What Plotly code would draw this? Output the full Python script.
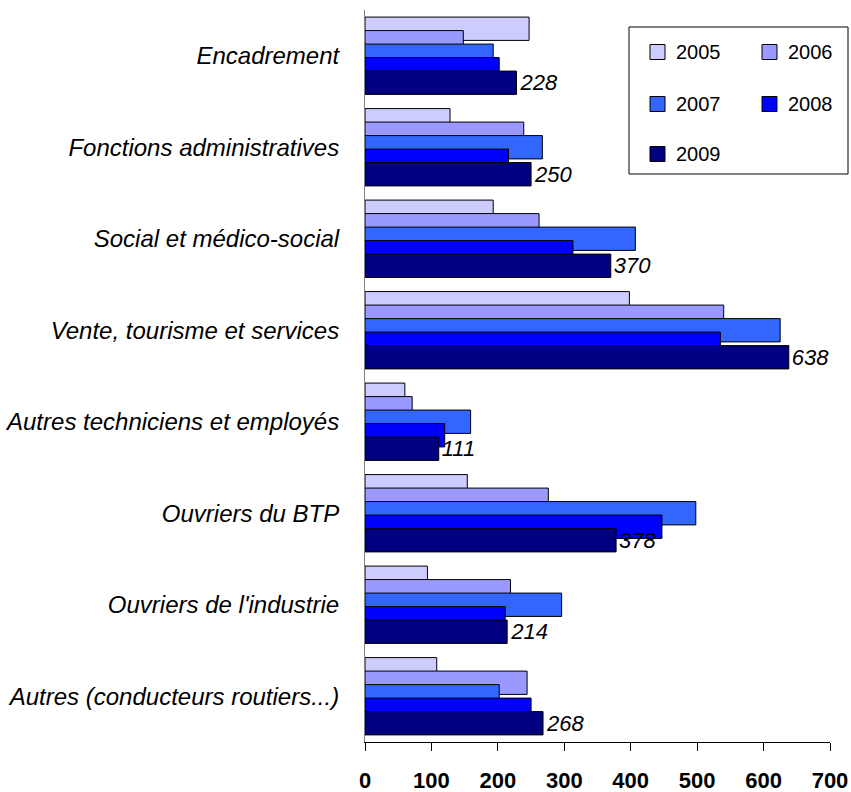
import plotly.graph_objects as go

categories = [
    "Encadrement",
    "Fonctions administratives",
    "Social et médico-social",
    "Vente, tourisme et services",
    "Autres techniciens et employés",
    "Ouvriers du BTP",
    "Ouvriers de l'industrie",
    "Autres (conducteurs routiers...)",
]
years = ["2005", "2006", "2007", "2008", "2009"]
v2005 = [247, 128, 193, 398, 60, 154, 94, 108]
v2006 = [148, 239, 262, 540, 71, 276, 219, 244]
v2007 = [193, 267, 407, 625, 159, 498, 296, 202]
v2008 = [202, 216, 313, 535, 120, 447, 211, 250]
v2009 = [228, 250, 370, 638, 111, 378, 214, 268]
series = [v2005, v2006, v2007, v2008, v2009]
colors = ["#CCCCFF", "#9999FF", "#3366FF", "#0000FF", "#000080"]
x_ticks = [0, 100, 200, 300, 400, 500, 600, 700]

W, H = 851, 792
ML, MR, MT, MB = 365, 21, 10, 50
PW = W - ML - MR
PH = H - MT - MB

bar_w = 0.255
step = 0.1475
start = -(4 * step + bar_w) / 2

fig = go.Figure()
for i, (yr, vals, col) in enumerate(zip(years, series, colors)):
    kw = {}
    if yr == "2009":
        kw = dict(
            texttemplate="%{x}",
            textposition="outside",
            constraintext="none",
            cliponaxis=False,
            textfont=dict(family="Liberation Sans, Arial, sans-serif",
                          size=22, style="italic", color="black"),
        )
    fig.add_trace(go.Bar(
        x=vals, y=categories, orientation="h", name=yr,
        marker=dict(color=col, line=dict(color="black", width=1)),
        offset=start + i * step, width=bar_w,
        showlegend=False, hoverinfo="x+name", **kw))

fig.update_layout(
    width=W, height=H,
    margin=dict(l=ML, r=MR, t=MT, b=MB),
    barmode="overlay",
    plot_bgcolor="white", paper_bgcolor="white",
    font=dict(family="Liberation Sans, Arial, sans-serif", color="black"),
)
fig.update_xaxes(
    range=[0, 700], tickvals=x_ticks, ticktext=[str(t) for t in x_ticks],
    showgrid=False, zeroline=False, showline=True, linecolor="black", linewidth=1,
    ticks="outside", ticklen=8, tickcolor="black",
    tickfont=dict(family="Liberation Sans, Arial, sans-serif", size=22, weight="bold"),
    ticklabelstandoff=11, automargin=False,
)
fig.update_yaxes(
    type="category", categoryorder="array", categoryarray=categories,
    range=[7.5, -0.5],
    showgrid=False, zeroline=False, showline=True, linecolor="#808080", linewidth=1,
    ticks="outside", ticklen=20, tickcolor="rgba(0,0,0,0)",
    tickfont=dict(family="Liberation Sans, Arial, sans-serif", size=24, style="italic"),
    automargin=False,
)

# legend box drawn in paper coordinates
def px(xp):
    return (xp - ML) / PW

def py(yp):
    return (H - MB - yp) / PH

fig.add_shape(type="rect", xref="paper", yref="paper",
              x0=px(629), x1=px(848), y0=py(174), y1=py(27),
              line=dict(color="black", width=1), fillcolor="white", layer="above")
leg_pos = [(650, 52), (762, 52), (650, 104), (762, 104), (650, 154)]
for yr, col, (lx, ly) in zip(years, colors, leg_pos):
    fig.add_shape(type="rect", xref="paper", yref="paper",
                  x0=px(lx), x1=px(lx + 15), y0=py(ly + 7.5), y1=py(ly - 7.5),
                  line=dict(color="black", width=1), fillcolor=col, layer="above")
    fig.add_annotation(xref="paper", yref="paper", x=px(lx + 24), y=py(ly),
                       text=yr, showarrow=False, xanchor="left", yanchor="middle",
                       font=dict(family="Liberation Sans, Arial, sans-serif", size=20, color="black"))

fig.write_html("out.html", config={"displayModeBar": False},
               post_script="document.body.style.margin='0';")
